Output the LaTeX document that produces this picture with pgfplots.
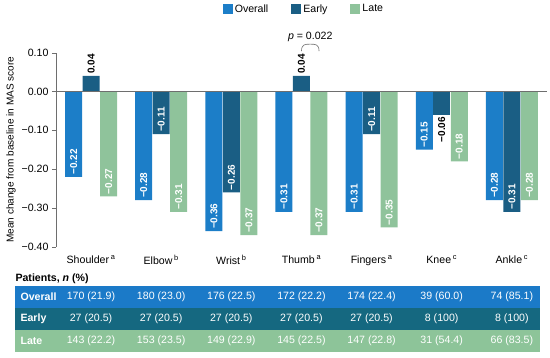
\documentclass[border=0pt]{standalone}
\usepackage{fontspec}
\setmainfont{Liberation Sans}
\usepackage{pgfplots}
\pgfplotsset{compat=1.18}
\definecolor{cOverall}{RGB}{28,126,200}
\definecolor{cEarly}{RGB}{26,94,132}
\definecolor{cLate}{RGB}{143,195,155}
\definecolor{tOverall}{RGB}{27,122,200}
\definecolor{tEarly}{RGB}{21,104,128}
\definecolor{tLate}{RGB}{141,196,153}
\definecolor{axisgray}{RGB}{110,110,110}
\begin{document}
\begin{tikzpicture}
\useasboundingbox (0pt,0pt) rectangle (550pt,-358pt);
\begin{axis}[
  at={(56pt,-246.7pt)}, anchor=south west,
  scale only axis, width=491pt, height=194pt,
  xmin=-0.5, xmax=6.5, ymin=-0.4, ymax=0.1,
  clip=false,
  axis y line*=left, axis x line*=bottom,
  x axis line style={draw=none},
  y axis line style={axisgray,-},
  ybar, bar width=17pt,
  xtick={0,...,6},
  xticklabels={Shoulder\,\textsuperscript{a},Elbow\,\textsuperscript{b},Wrist\,\textsuperscript{b},Thumb\,\textsuperscript{a},Fingers\,\textsuperscript{a},Knee\,\textsuperscript{c},Ankle\,\textsuperscript{c}},
  xtick style={draw=none},
  xticklabel style={yshift=-1pt},
  ytick={-0.4,-0.3,-0.2,-0.1,0,0.1},
  yticklabels={−0.40,−0.30,−0.20,−0.10,0.00,0.10},
  ytick style={axisgray},
  tick align=outside, major tick length=4pt,
  ylabel={Mean change from baseline in MAS score},
  ylabel style={font=\fontsize{10}{12}\selectfont, yshift=-1pt},
  tick label style={font=\fontsize{10.6}{12}\selectfont},
  point meta=explicit symbolic,
  lbl/.style={nodes near coords, every node near coord/.append style={rotate=90, anchor=west, inner sep=2pt, text=white, font=\bfseries\fontsize{10}{10}\selectfont}},
  lblout/.style={nodes near coords, every node near coord/.append style={rotate=90, anchor=east, inner sep=2pt, text=black, font=\bfseries\fontsize{10}{10}\selectfont}},
  legend style={at={(0.505,1.225)}, anchor=center, draw=none, fill=none, legend columns=3,
    font=\fontsize{10.6}{12}\selectfont,
    /tikz/every even column/.append style={column sep=21pt}},
  legend image code/.code={\fill[#1] (0pt,-5pt) rectangle (10pt,5pt);},
]
% Overall
\addplot[fill=cOverall, draw=none, bar shift=-17.5pt, lbl] coordinates {
  (0,-0.22)[−0.22] (1,-0.28)[−0.28] (2,-0.36)[−0.36] (3,-0.31)[−0.31]
  (4,-0.31)[−0.31] (5,-0.15)[−0.15] (6,-0.28)[−0.28]};
% Early
\addplot[fill=cEarly, draw=none, bar shift=0pt, lbl] coordinates {
  (1,-0.11)[−0.11] (2,-0.26)[−0.26] (4,-0.11)[−0.11] (6,-0.31)[−0.31]};
% Late
\addplot[fill=cLate, draw=none, bar shift=17.5pt, lbl] coordinates {
  (0,-0.27)[−0.27] (1,-0.31)[−0.31] (2,-0.37)[−0.37] (3,-0.37)[−0.37]
  (4,-0.35)[−0.35] (5,-0.18)[−0.18] (6,-0.28)[−0.28]};
\addplot[forget plot, fill=cEarly, draw=none, bar shift=0pt, lbl,
  every node near coord/.append style={text=black}] coordinates {
  (0,0.04)[0.04] (3,0.04)[0.04]};
\addplot[forget plot, fill=cEarly, draw=none, bar shift=0pt, lblout] coordinates {
  (5,-0.06)[−0.06]};
\legend{Overall,Early,Late}
\draw[axisgray] (axis cs:-0.5,0) -- (axis cs:6.5,0);
% p-value bracket (Thumb: Early vs Late)
\draw[axisgray, line width=0.6pt] (axis cs:3,0.104) .. controls (axis cs:3,0.122) and (axis cs:3.05,0.122) .. (axis cs:3.125,0.122)
  .. controls (axis cs:3.2,0.122) and (axis cs:3.25,0.122) .. (axis cs:3.25,0.104);
\node[font=\fontsize{10.6}{12}\selectfont] at (axis cs:3.125,0.141) {\textit{p} = 0.022};
\end{axis}
% Patients table
\node[anchor=west, font=\bfseries\fontsize{10.6}{12}\selectfont] at (12pt,-278.5pt) {Patients, \textit{n} (\%)};
\fill[tOverall] (15pt,-286pt) rectangle (540pt,-308pt);
\fill[tEarly] (15pt,-308pt) rectangle (540pt,-330pt);
\fill[tLate] (15pt,-330pt) rectangle (540pt,-352pt);
\begin{scope}[every node/.style={text=white, font=\fontsize{10.6}{12}\selectfont}]
\node[anchor=west, font=\bfseries\fontsize{10.6}{12}\selectfont] at (17pt,-297pt) {Overall};
\node[anchor=west, font=\bfseries\fontsize{10.6}{12}\selectfont] at (17pt,-319pt) {Early};
\node[anchor=west, font=\bfseries\fontsize{10.6}{12}\selectfont] at (17pt,-341pt) {Late};
\foreach \v [count=\i from 0] in {170 (21.9),180 (23.0),176 (22.5),172 (22.2),174 (22.4),39 (60.0),74 (85.1)}
  \node at ({91+70.14*\i pt},-297pt) {\v};
\foreach \v [count=\i from 0] in {27 (20.5),27 (20.5),27 (20.5),27 (20.5),27 (20.5),8 (100),8 (100)}
  \node at ({91+70.14*\i pt},-319pt) {\v};
\foreach \v [count=\i from 0] in {143 (22.2),153 (23.5),149 (22.9),145 (22.5),147 (22.8),31 (54.4),66 (83.5)}
  \node at ({91+70.14*\i pt},-341pt) {\v};
\end{scope}
\end{tikzpicture}
\end{document}
